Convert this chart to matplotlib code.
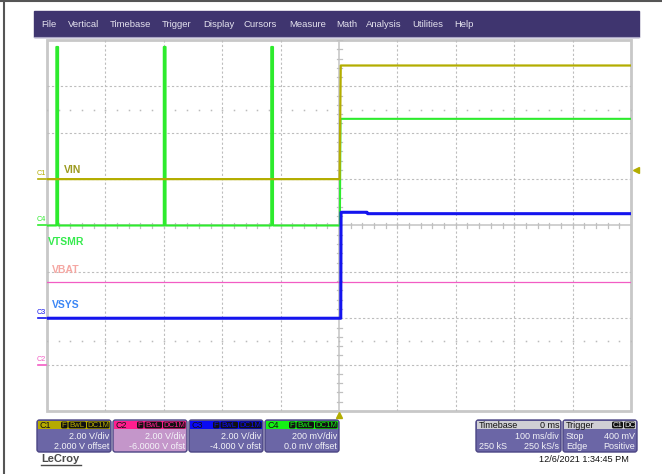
import matplotlib.pyplot as plt
from matplotlib.patches import Rectangle, FancyBboxPatch

plt.rcParams['font.family'] = ['Liberation Sans', 'DejaVu Sans']

W, H = 662, 474

menu_items = ["File", "Vertical", "Timebase", "Trigger", "Display", "Cursors",
              "Measure", "Math", "Analysis", "Utilities", "Help"]
menu_x = [41, 68, 110, 162, 203, 244, 289, 336, 366, 412, 454]

# channel setup (V/div and offset in V)
ch_names = ["C1", "C2", "C3", "C4"]
ch_labels = ["VIN", "VBAT", "VSYS", "VTSMR"]
ch_scale = [2.0, 2.0, 2.0, 0.2]
ch_offset = [2.0, -6.0, -4.0, 0.0]
ch_vdiv_text = ["2.00 V/div", "2.00 V/div", "2.00 V/div", "200 mV/div"]
ch_ofs_text = ["2.000 V offset", "-6.0000 V ofst", "-4.000 V ofst", "0.0 mV offset"]

time_per_div = 100.0  # ms
trig_level = 0.4      # V on C1

# waveforms, time in ms, level in V
vin_t = [-500, 1, 3, 500]
vin_v = [0.0, 0.0, 4.9, 4.9]

vbat_t = [-500, 500]
vbat_v = [3.56, 3.56]

vsys_t = [-500, 3, 3.5, 48, 49, 500]
vsys_v = [0.0, 0.0, 4.57, 4.57, 4.51, 4.51]

vtsmr_t = [-500, -484, -484, -481, -481, -300, -300, -297, -297,
           -116, -116, -113, -113, 1.5, 2.5, 500]
vtsmr_v = [0.0, 0.0, 0.77, 0.77, 0.0, 0.0, 0.77, 0.77, 0.0,
           0.0, 0.77, 0.77, 0.0, 0.0, 0.46, 0.46]

colors = {"C1": "#B3AD00", "C2": "#F25CC4", "C3": "#1414EE", "C4": "#2DEB2D"}
label_colors = {"C1": "#9C9A1E", "C2": "#F5A7A2", "C3": "#3B86F5", "C4": "#36EA4E"}

fig = plt.figure(figsize=(W / 100, H / 100), dpi=100)

# background layer in pixel units
bg = fig.add_axes([0, 0, 1, 1])
bg.set_xlim(0, W)
bg.set_ylim(H, 0)
bg.axis("off")

bg.plot([0, W], [1, 1], color="#555555", lw=1.5)
bg.plot([3.5, 3.5], [0, H], color="#555555", lw=1.5)

bg.add_patch(Rectangle((34, 11), 605, 26, color="#3F356F"))
bg.plot([34, 639], [37, 37], color="#A9A4C4", lw=0.8)
for name, x in zip(menu_items, menu_x):
    bg.text(x, 24.5, name, color="#E4E2EE", fontsize=6.8, va="center", ha="left")


def tag(x, y, w, s, fg, bgc="#111111"):
    bg.add_patch(FancyBboxPatch((x, y), w, 6.8, boxstyle="round,pad=0,rounding_size=1.5",
                                fc=bgc, ec="none"))
    bg.text(x + w / 2, y + 3.6, s, color=fg, fontsize=5.6, ha="center", va="center")


def panel(x, w, head, body, edge="#4B4584"):
    bg.add_patch(FancyBboxPatch((x, 420), w, 32, boxstyle="round,pad=0,rounding_size=2.5",
                                fc=body, ec=edge, lw=1))
    bg.add_patch(Rectangle((x + 0.8, 420.6), w - 1.6, 8.8, color=head, lw=0))


box_x = [37, 113, 189, 265]
box_head = {"C1": "#B5AA00", "C2": "#FF1E8F", "C3": "#0A0AF5", "C4": "#15F015"}
box_body = {"C1": "#6B66A6", "C2": "#C496CA", "C3": "#6B66A6", "C4": "#6B66A6"}
for i, ch in enumerate(ch_names):
    x = box_x[i]
    panel(x, 74, box_head[ch], box_body[ch])
    bg.text(x + 2, 425, ch, color="#111111", fontsize=6.5, va="center")
    tag(x + 24, 421.6, 6.5, "F", box_head[ch])
    tag(x + 31.5, 421.6, 17.5, "BwL", box_head[ch])
    tag(x + 50, 421.6, 22.5, "DC1M", box_head[ch])
    bg.text(x + 72, 436.5, ch_vdiv_text[i], color="#F4F4F8", fontsize=6.5, ha="right", va="center")
    bg.text(x + 72, 446.5, ch_ofs_text[i], color="#F4F4F8", fontsize=6.5, ha="right", va="center")

# timebase panel
panel(476, 85, "#CFCFD4", "#6B66A6")
bg.text(479, 425, "Timebase", color="#111111", fontsize=6.5, va="center")
bg.text(559, 425, "0 ms", color="#111111", fontsize=6.5, va="center", ha="right")
bg.text(559, 436.5, "100 ms/div", color="#F4F4F8", fontsize=6.5, va="center", ha="right")
bg.text(479, 446.5, "250 kS", color="#F4F4F8", fontsize=6.5, va="center")
bg.text(559, 446.5, "250 kS/s", color="#F4F4F8", fontsize=6.5, va="center", ha="right")

# trigger panel
panel(563, 74, "#CFCFD4", "#6B66A6")
bg.text(566, 425, "Trigger", color="#111111", fontsize=6.5, va="center")
tag(612, 421.6, 11, "C1", "#EEEEEE")
tag(624, 421.6, 11, "DC", "#EEEEEE")
bg.text(566, 436.5, "Stop", color="#F4F4F8", fontsize=6.5, va="center")
bg.text(635, 436.5, "400 mV", color="#F4F4F8", fontsize=6.5, va="center", ha="right")
bg.text(566, 446.5, "Edge", color="#F4F4F8", fontsize=6.5, va="center")
bg.text(635, 446.5, "Positive", color="#F4F4F8", fontsize=6.5, va="center", ha="right")

bg.text(629, 460, "12/6/2021 1:34:45 PM", color="#111111", fontsize=6.6, ha="right", va="center")
bg.text(41, 459.5, "LeCroy", color="#4A4A4A", fontsize=8, fontweight="bold", va="center")
bg.plot([41, 81], [465, 465], color="#4A4A4A", lw=1)

# scope grid: 10 x 8 divisions
ax = fig.add_axes([47 / W, 1 - 411 / H, 584 / W, 371 / H])
ax.set_xlim(-5 * time_per_div, 5 * time_per_div)
ax.set_ylim(-4, 4)
ax.set_facecolor("white")
for s in ax.spines.values():
    s.set_visible(False)
ax.set_xticks([])
ax.set_yticks([])

px_ms = 584 / (10 * time_per_div)  # pixels per ms
px_div = 371 / 8

for k in range(-4, 5):
    if k != 0:
        ax.axvline(k * time_per_div, color="#BDBDBD", lw=0.8, dashes=(2, 2))
for k in range(-3, 4):
    if k != 0:
        ax.axhline(k, color="#BDBDBD", lw=0.8, dashes=(2, 2))
ax.axvline(0, color="#C8C8C8", lw=1.2)
ax.axhline(0, color="#C8C8C8", lw=1.2)

# minor ticks on the centre cross and the dotted rows at +/-2.5 div
minor_t = [k * time_per_div / 5 for k in range(-25, 26)]
minor_v = [k / 5 for k in range(-20, 21)]
hx = 2.5 / px_ms
hy = 2.5 / px_div
for t in minor_t:
    ax.plot([t, t], [-hy, hy], color="#C0C0C0", lw=0.9)
for v in minor_v:
    ax.plot([-hx, hx], [v, v], color="#C0C0C0", lw=0.9)
for row in (2.5, -2.5):
    ax.plot(minor_t, [row] * len(minor_t), ls="none", marker="s", ms=1.1,
            mfc="#BBBBBB", mec="none")

ax.add_patch(Rectangle((0, 0), 1, 1, transform=ax.transAxes, fill=False,
                       ec="#C8C8C8", lw=2, clip_on=False))


def to_div(v, ch):
    i = ch_names.index(ch)
    return [(x + ch_offset[i]) / ch_scale[i] for x in v]


ax.plot(vtsmr_t, to_div(vtsmr_v, "C4"), color=colors["C4"], lw=1.5, zorder=3)
ax.plot(vin_t, to_div(vin_v, "C1"), color=colors["C1"], lw=1.6, zorder=4)
ax.plot(vbat_t, to_div(vbat_v, "C2"), color=colors["C2"], lw=0.9, zorder=4)
ax.plot(vsys_t, to_div(vsys_v, "C3"), color=colors["C3"], lw=2.2, zorder=5)

# trace labels
lab_pos = {"C1": (-471, 1.2), "C4": (-498, -0.35), "C2": (-491, -0.96), "C3": (-491, -1.71)}
for ch, lab in zip(ch_names, ch_labels):
    x, y = lab_pos[ch]
    ax.text(x, y, lab, color=label_colors[ch], fontsize=7.5, fontweight="bold",
            va="center", ha="left")

# ground markers to the left of the grid
for i, ch in enumerate(ch_names):
    g = ch_offset[i] / ch_scale[i]
    x0 = -5 * time_per_div - 9 / px_ms
    ax.plot([x0, -5 * time_per_div - 1 / px_ms], [g, g], color=colors[ch], lw=1.2, clip_on=False)
    ax.text(-5 * time_per_div - 10 / px_ms, g + 2 / px_div, ch, color=colors[ch], fontsize=5.2,
            va="bottom", ha="left", clip_on=False)

# trigger level and trigger time markers
tl = (trig_level + ch_offset[0]) / ch_scale[0]
ax.plot(5 * time_per_div + 5 / px_ms, tl, marker="<", ms=4.5, color=colors["C1"], clip_on=False)
ax.plot(0, -4 - 4 / px_div, marker="^", ms=4.5, color=colors["C1"], clip_on=False)

fig.savefig("out.png", dpi=100)
